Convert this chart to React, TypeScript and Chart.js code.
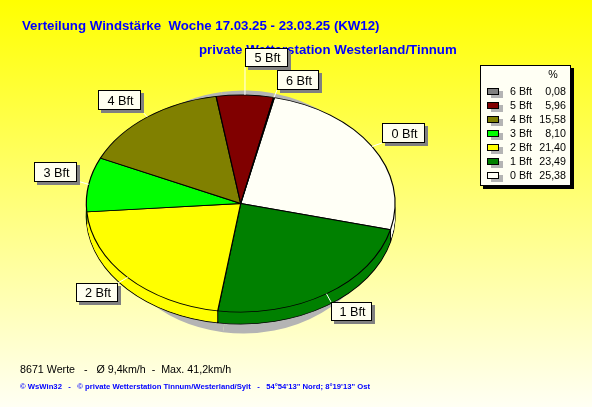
import React, { useEffect, useRef } from "react";
import { Chart, registerables } from "chart.js";

Chart.register(...registerables);

const categories = ["0 Bft", "1 Bft", "2 Bft", "3 Bft", "4 Bft", "5 Bft", "6 Bft"];
const shares = [25.38, 23.49, 21.4, 8.1, 15.58, 5.96, 0.08];
const colors = ["#FFFFF6", "#008000", "#FFFF00", "#00FF00", "#808000", "#800000", "#808080"];

const titleLine1 = "Verteilung Windstärke  Woche 17.03.25 - 23.03.25 (KW12)";
const titleLine2 = "private Wetterstation Westerland/Tinnum";
const statsLine = "8671 Werte   -   Ø 9,4km/h  -  Max. 41,2km/h";
const footerLine = "© WsWin32   -   © private Wetterstation Tinnum/Westerland/Sylt   -   54°54'13\" Nord; 8°19'13\" Ost";

const W = 592;
const H = 407;
const SQUASH = 0.703;
const DEPTH = 12;
const FONT = '"Liberation Sans", Arial, sans-serif';

// label box: left, top, right, bottom, leader end
const boxes = [
  [382, 123, 425, 143, 382, 143],
  [331, 302, 372, 321, 331, 302],
  [76, 283, 118, 302, 118, 283],
  [34, 162, 77, 182, 77, 181],
  [98, 90, 141, 110, 141, 110],
  [245, 48, 288, 67, 245, 67],
  [277, 70, 319, 90, 277, 90],
];

const piePlugin = {
  id: "pie3d",
  beforeDraw(chart: any) {
    const { ctx } = chart;
    const g = ctx.createLinearGradient(0, 0, 0, H);
    g.addColorStop(0, "#FFFF00");
    g.addColorStop(1, "#FFFFF4");
    ctx.fillStyle = g;
    ctx.fillRect(0, 0, W, H);
    ctx.textBaseline = "alphabetic";
    ctx.textAlign = "left";
    ctx.fillStyle = "#0000FF";
    ctx.font = `bold 13.25px ${FONT}`;
    ctx.fillText(titleLine1, 22, 30);
    ctx.fillText(titleLine2, 199, 54);
    ctx.fillStyle = "#000";
    ctx.font = `10.7px ${FONT}`;
    ctx.fillText(statsLine, 20, 373);
    ctx.fillStyle = "#0000FF";
    ctx.font = `bold 7.7px ${FONT}`;
    ctx.fillText(footerLine, 20, 389);
  },
  beforeDatasetsDraw(chart: any) {
    const { ctx } = chart;
    const arcs = chart.getDatasetMeta(0).data;
    const cx = arcs[0].x;
    const cy = arcs[0].y;
    const R = arcs[0].outerRadius;
    const place = (dx: number, dy: number, sy: number, sx = 1) => {
      ctx.setTransform(1, 0, 0, 1, 0, 0);
      ctx.translate(cx + dx, cy + dy);
      ctx.scale(sx, sy);
      ctx.translate(-cx, -cy);
    };
    const drawAll = (over: any) => {
      arcs.forEach((a: any) => {
        const o = a.options;
        a.options = Object.assign(Object.create(o), over(o));
        a.draw(ctx);
        a.options = o;
      });
    };
    ctx.save();
    // soft shadow behind the pie
    place(3, 8.5, 121.5 / R, 140 / R);
    drawAll(() => ({ backgroundColor: "#B4B4B4", borderWidth: 0 }));
    // bottom rim and side wall
    place(0, DEPTH, SQUASH);
    drawAll(() => ({}));
    for (let d = DEPTH - 1; d >= 1; d--) {
      place(0, d, SQUASH);
      drawAll(() => ({ borderWidth: 0 }));
    }
    // vertical wall edges on the front half
    ctx.setTransform(1, 0, 0, 1, 0, 0);
    ctx.strokeStyle = "#000";
    ctx.lineWidth = 1;
    arcs.forEach((a: any) => {
      const s = Math.sin(a.startAngle);
      if (s > 0) {
        const x = cx + R * Math.cos(a.startAngle);
        const y = cy + R * s * SQUASH;
        ctx.beginPath();
        ctx.moveTo(x, y);
        ctx.lineTo(x, y + DEPTH);
        ctx.stroke();
      }
    });
    place(0, 0, SQUASH);
  },
  afterDatasetsDraw(chart: any) {
    const { ctx } = chart;
    ctx.restore();
    const arcs = chart.getDatasetMeta(0).data;
    const cx = arcs[0].x;
    const cy = arcs[0].y;
    const R = arcs[0].outerRadius;
    ctx.textBaseline = "middle";
    // callouts
    categories.forEach((c, i) => {
      const a = (arcs[i].startAngle + arcs[i].endAngle) / 2;
      const [l, t, r, b, ex, ey] = boxes[i];
      ctx.strokeStyle = "#FFFFFF";
      ctx.lineWidth = 1;
      ctx.beginPath();
      ctx.moveTo(cx + R * Math.cos(a), cy + R * SQUASH * Math.sin(a));
      ctx.lineTo(ex, ey);
      ctx.stroke();
      ctx.fillStyle = "#808080";
      ctx.fillRect(l + 3, t + 3, r - l, b - t);
      ctx.fillStyle = "#FFFFF0";
      ctx.fillRect(l, t, r - l, b - t);
      ctx.strokeStyle = "#000";
      ctx.strokeRect(l + 0.5, t + 0.5, r - l - 1, b - t - 1);
      ctx.fillStyle = "#000";
      ctx.font = `12.7px ${FONT}`;
      ctx.textAlign = "center";
      ctx.fillText(c, (l + r) / 2 + 1, (t + b) / 2 + 1);
    });
    // legend
    ctx.fillStyle = "#000";
    ctx.fillRect(483, 68, 91, 121);
    ctx.fillStyle = "#FFFFF4";
    ctx.fillRect(480, 65, 91, 121);
    ctx.strokeStyle = "#000";
    ctx.strokeRect(480.5, 65.5, 90, 120);
    ctx.fillStyle = "#000";
    ctx.font = `10.7px ${FONT}`;
    ctx.textAlign = "center";
    ctx.fillText("%", 553, 75);
    categories.forEach((c, i) => {
      const row = categories.length - 1 - i;
      const y = 91 + row * 14;
      ctx.fillStyle = "#B4B4B4";
      ctx.fillRect(491, y, 12, 7);
      ctx.fillStyle = colors[i];
      ctx.fillRect(487, y - 3, 12, 7);
      ctx.strokeStyle = "#000";
      ctx.strokeRect(487.5, y - 2.5, 11, 6);
      ctx.fillStyle = "#000";
      ctx.textAlign = "left";
      ctx.font = `10.7px ${FONT}`;
      ctx.fillText(c, 510, y + 1);
      ctx.textAlign = "right";
      ctx.fillText(shares[i].toFixed(2).replace(".", ","), 566, y + 1);
    });
  },
};

export default function App() {
  const ref = useRef<HTMLCanvasElement>(null);
  useEffect(() => {
    document.body.style.margin = "0";
    const chart = new Chart(ref.current!, {
      type: "pie",
      data: {
        labels: categories,
        datasets: [
          {
            data: shares,
            backgroundColor: colors,
            borderColor: "#000000",
            borderWidth: 1.2,
            clip: false,
          } as any,
        ],
      },
      options: {
        responsive: false,
        animation: false,
        rotation: 12.6,
        devicePixelRatio: 1,
        layout: { padding: { left: 85.7, right: 196.3, top: 48.5, bottom: 48.5 } },
        plugins: { legend: { display: false }, title: { display: false }, tooltip: { enabled: false } },
      },
      plugins: [piePlugin],
    });
    return () => chart.destroy();
  }, []);
  return <canvas ref={ref} width={W} height={H} style={{ display: "block", width: W, height: H }} />;
}
